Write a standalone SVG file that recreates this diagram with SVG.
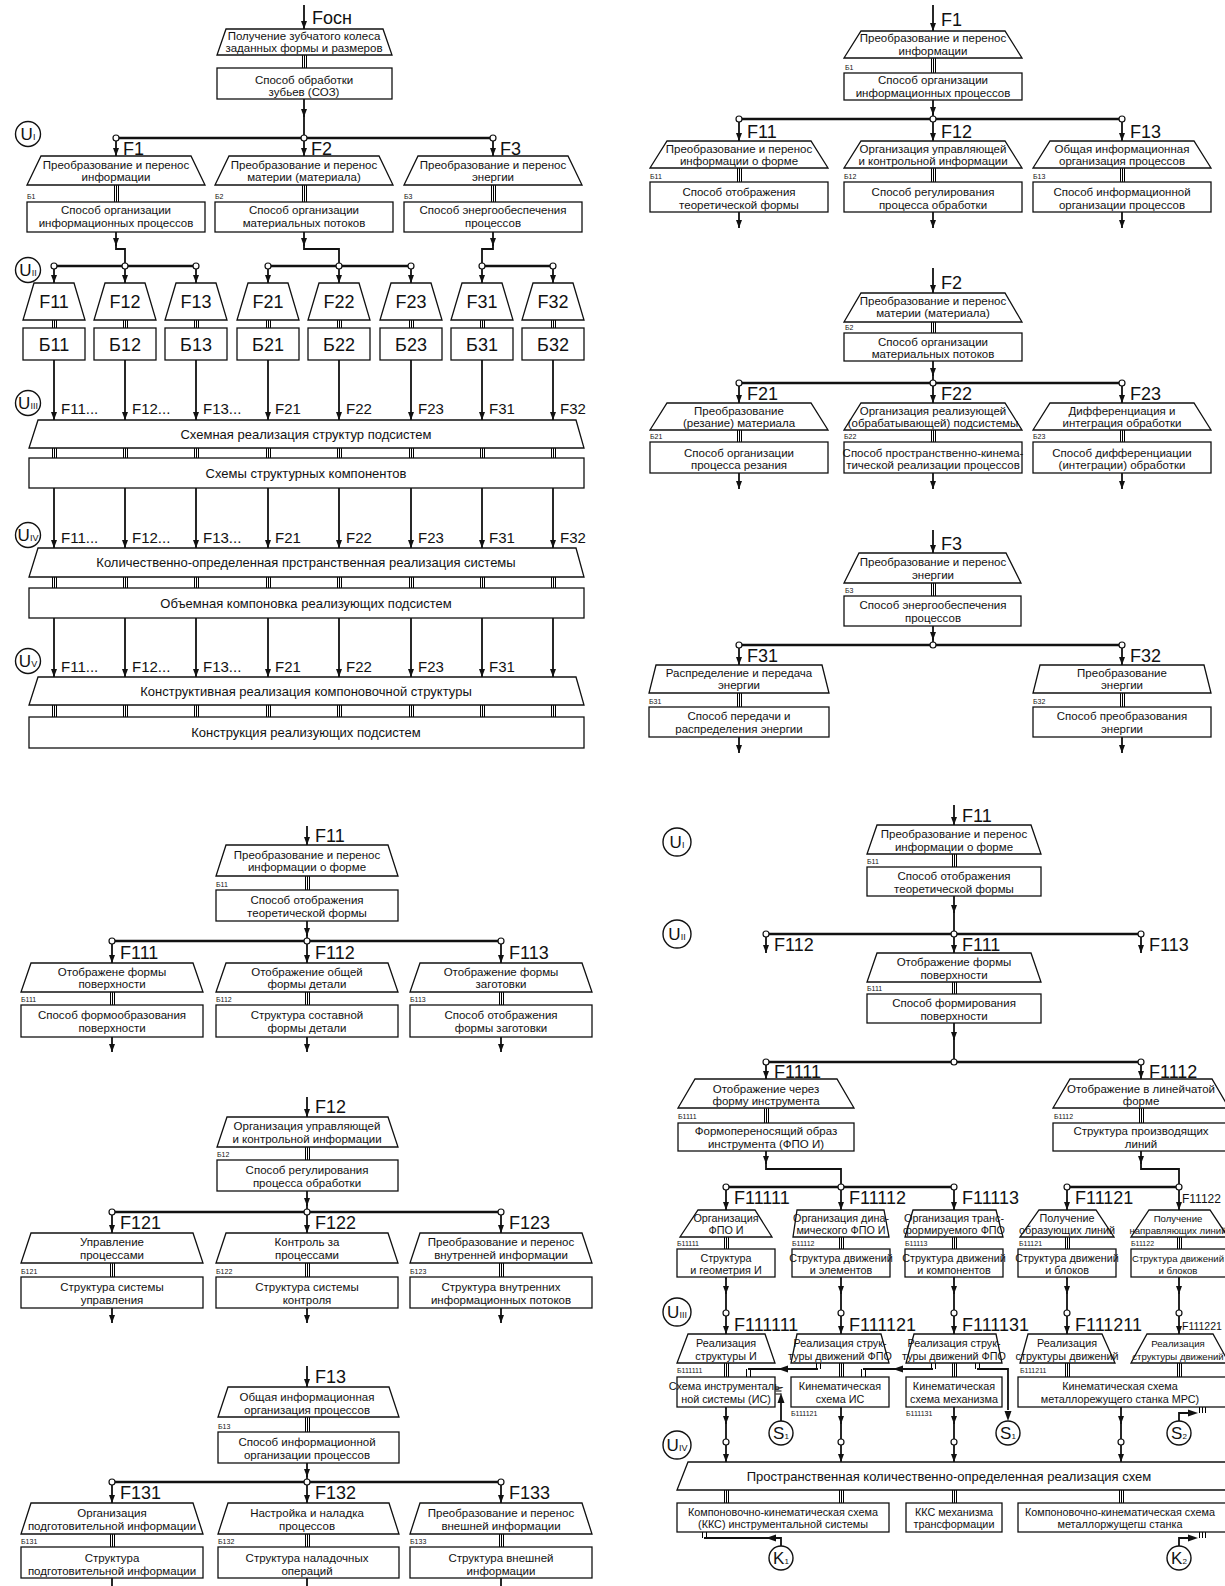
<svg xmlns="http://www.w3.org/2000/svg" width="1225" height="1586" viewBox="0 0 1225 1586">
<defs>
<style>
.n{fill:#fff;stroke:#111;stroke-width:1.3}
.t{font-family:"Liberation Sans Narrow","Liberation Sans",Arial,sans-serif;font-size:11.5px;text-anchor:middle;fill:#111}
.t2{font-family:"Liberation Sans Narrow","Liberation Sans",Arial,sans-serif;font-size:10.8px;text-anchor:middle;fill:#111}
.t3{font-family:"Liberation Sans Narrow","Liberation Sans",Arial,sans-serif;font-size:9.6px;text-anchor:middle;fill:#111}
.s{font-family:"Liberation Sans Narrow","Liberation Sans",Arial,sans-serif;font-size:7px;fill:#111}
.f{font-family:"Liberation Sans Narrow","Liberation Sans",Arial,sans-serif;font-size:18px;fill:#111}
.fs{font-family:"Liberation Sans Narrow","Liberation Sans",Arial,sans-serif;font-size:12px;fill:#111}
.fc{font-family:"Liberation Sans Narrow","Liberation Sans",Arial,sans-serif;font-size:18px;fill:#111;text-anchor:middle}
.g{font-family:"Liberation Sans Narrow","Liberation Sans",Arial,sans-serif;font-size:15px;fill:#111}
.h{font-family:"Liberation Sans",Arial,sans-serif;font-size:13px;text-anchor:middle;fill:#111}
.c{fill:none;stroke:#111;stroke-width:1.8}
.a{fill:none;stroke:#111;stroke-width:1.8;marker-end:url(#ah)}
.bus{fill:none;stroke:#111;stroke-width:2.6}
.tr{fill:none;stroke:#000;stroke-width:1;transform:translate(0.5px,0)}
.j{fill:#fff;stroke:#111;stroke-width:1.2}
.u{fill:#fff;stroke:#111;stroke-width:1.4}
.ut{font-family:"Liberation Sans Narrow","Liberation Sans",Arial,sans-serif;font-size:17px;fill:#111;text-anchor:middle}
</style>
<marker id="ah" viewBox="0 0 10 10" refX="10" refY="5" markerUnits="userSpaceOnUse" markerWidth="8" markerHeight="6" orient="auto" preserveAspectRatio="none"><path d="M0,0L10,5L0,10z" fill="#111"/></marker>
</defs>
<rect width="1225" height="1586" fill="#fff"/>

<g id="connectors">
<path class="a" d="M304 5V29"/>
<path class="tr" d="M302 55V68M304 55V68M306 55V68"/>
<path class="a" d="M304 99V117"/><path class="c" d="M304 115V138"/>
<path class="bus" d="M116 138H493"/>
<path class="a" d="M116 141V156"/><path class="a" d="M304 141V156"/><path class="a" d="M493 141V156"/>
<path class="tr" d="M114 185V202M116 185V202M118 185V202M302 185V202M304 185V202M306 185V202M491 185V202M493 185V202M495 185V202"/>
<path class="a" d="M116 232V246"/><path class="c" d="M116 244V249H125V266"/>
<path class="a" d="M304 232V246"/><path class="c" d="M304 244V249H339V266"/>
<path class="a" d="M493 232V246"/><path class="c" d="M493 244V249H482V266"/>
<path class="bus" d="M54 266H196M268 266H411M482 266H553"/>
<path class="a" d="M54 269V283"/><path class="a" d="M125 269V283"/><path class="a" d="M196 269V283"/><path class="a" d="M268 269V283"/><path class="a" d="M339 269V283"/><path class="a" d="M411 269V283"/><path class="a" d="M482 269V283"/><path class="a" d="M553 269V283"/>
<path class="tr" d="M52 320V328M54 320V328M56 320V328M123 320V328M125 320V328M127 320V328M194 320V328M196 320V328M198 320V328M266 320V328M268 320V328M270 320V328M337 320V328M339 320V328M341 320V328M409 320V328M411 320V328M413 320V328M480 320V328M482 320V328M484 320V328M551 320V328M553 320V328M555 320V328"/>
<path class="a" d="M54 360V420"/><path class="a" d="M125 360V420"/><path class="a" d="M196 360V420"/><path class="a" d="M268 360V420"/><path class="a" d="M339 360V420"/><path class="a" d="M411 360V420"/><path class="a" d="M482 360V420"/><path class="a" d="M553 360V420"/>
<path class="tr" d="M52 448V458M54 448V458M56 448V458M123 448V458M125 448V458M127 448V458M194 448V458M196 448V458M198 448V458M266 448V458M268 448V458M270 448V458M337 448V458M339 448V458M341 448V458M409 448V458M411 448V458M413 448V458M480 448V458M482 448V458M484 448V458M551 448V458M553 448V458M555 448V458"/>
<path class="a" d="M54 488V548"/><path class="a" d="M125 488V548"/><path class="a" d="M196 488V548"/><path class="a" d="M268 488V548"/><path class="a" d="M339 488V548"/><path class="a" d="M411 488V548"/><path class="a" d="M482 488V548"/><path class="a" d="M553 488V548"/>
<path class="tr" d="M52 577V588M54 577V588M56 577V588M123 577V588M125 577V588M127 577V588M194 577V588M196 577V588M198 577V588M266 577V588M268 577V588M270 577V588M337 577V588M339 577V588M341 577V588M409 577V588M411 577V588M413 577V588M480 577V588M482 577V588M484 577V588M551 577V588M553 577V588M555 577V588"/>
<path class="a" d="M54 618V677"/><path class="a" d="M125 618V677"/><path class="a" d="M196 618V677"/><path class="a" d="M268 618V677"/><path class="a" d="M339 618V677"/><path class="a" d="M411 618V677"/><path class="a" d="M482 618V677"/><path class="a" d="M553 618V677"/>
<path class="tr" d="M52 705V717M54 705V717M56 705V717M123 705V717M125 705V717M127 705V717M194 705V717M196 705V717M198 705V717M266 705V717M268 705V717M270 705V717M337 705V717M339 705V717M341 705V717M409 705V717M411 705V717M413 705V717M480 705V717M482 705V717M484 705V717M551 705V717M553 705V717M555 705V717"/>
<circle class="j" cx="116" cy="138" r="3"/><circle class="j" cx="304" cy="138" r="3"/><circle class="j" cx="493" cy="138" r="3"/>
<circle class="j" cx="54" cy="266" r="3"/><circle class="j" cx="125" cy="266" r="3"/><circle class="j" cx="196" cy="266" r="3"/><circle class="j" cx="268" cy="266" r="3"/><circle class="j" cx="339" cy="266" r="3"/><circle class="j" cx="411" cy="266" r="3"/><circle class="j" cx="482" cy="266" r="3"/><circle class="j" cx="553" cy="266" r="3"/>

<path class="a" d="M933 5V31"/>
<path class="tr" d="M931 58V73M933 58V73M935 58V73"/>
<path class="a" d="M933 100V115"/><path class="c" d="M933 113V119"/>
<path class="bus" d="M739 119H1122"/>
<path class="a" d="M739 122V141"/><path class="a" d="M933 122V141"/><path class="a" d="M1122 122V141"/>
<path class="tr" d="M737 168V182M739 168V182M741 168V182M931 168V182M933 168V182M935 168V182M1120 168V182M1122 168V182M1124 168V182"/>
<path class="a" d="M739 212V228"/><path class="a" d="M933 212V228"/><path class="a" d="M1122 212V228"/>
<circle class="j" cx="739" cy="119" r="3"/><circle class="j" cx="933" cy="119" r="3"/><circle class="j" cx="1122" cy="119" r="3"/>
<path class="a" d="M933 268V293"/>
<path class="tr" d="M931 322V333M933 322V333M935 322V333"/>
<path class="a" d="M933 361V376"/><path class="c" d="M933 374V383"/>
<path class="bus" d="M739 383H1122"/>
<path class="a" d="M739 386V403"/><path class="a" d="M933 386V403"/><path class="a" d="M1122 386V403"/>
<path class="tr" d="M737 430V442M739 430V442M741 430V442M931 430V442M933 430V442M935 430V442M1120 430V442M1122 430V442M1124 430V442"/>
<path class="a" d="M739 473V489"/><path class="a" d="M933 473V489"/><path class="a" d="M1122 473V489"/>
<circle class="j" cx="739" cy="383" r="3"/><circle class="j" cx="933" cy="383" r="3"/><circle class="j" cx="1122" cy="383" r="3"/>
<path class="a" d="M933 530V553"/>
<path class="tr" d="M931 583V596M933 583V596M935 583V596"/>
<path class="a" d="M933 626V640"/><path class="c" d="M933 638V645"/>
<path class="bus" d="M739 645H1122"/>
<path class="a" d="M739 648V665"/><path class="a" d="M1122 648V665"/>
<path class="tr" d="M737 693V707M739 693V707M741 693V707M1120 693V707M1122 693V707M1124 693V707"/>
<path class="a" d="M739 737V753"/><path class="a" d="M1122 737V753"/>
<circle class="j" cx="739" cy="645" r="3"/><circle class="j" cx="933" cy="645" r="3"/><circle class="j" cx="1122" cy="645" r="3"/>

<path class="a" d="M307 826V845"/>
<path class="tr" d="M305 876V890M307 876V890M309 876V890"/>
<path class="a" d="M307 921V936"/><path class="c" d="M307 934V941"/>
<path class="bus" d="M112 941H501"/>
<path class="a" d="M112 944V963"/><path class="a" d="M307 944V963"/><path class="a" d="M501 944V963"/>
<path class="tr" d="M110 992V1005M112 992V1005M114 992V1005M305 992V1005M307 992V1005M309 992V1005M499 992V1005M501 992V1005M503 992V1005"/>
<path class="a" d="M112 1037V1052"/><path class="a" d="M307 1037V1052"/><path class="a" d="M501 1037V1052"/>
<circle class="j" cx="112" cy="941" r="3"/><circle class="j" cx="307" cy="941" r="3"/><circle class="j" cx="501" cy="941" r="3"/>
<path class="a" d="M307 1097V1117"/>
<path class="tr" d="M305 1147V1160M307 1147V1160M309 1147V1160"/>
<path class="a" d="M307 1191V1206"/><path class="c" d="M307 1204V1212"/>
<path class="bus" d="M112 1212H501"/>
<path class="a" d="M112 1215V1233"/><path class="a" d="M307 1215V1233"/><path class="a" d="M501 1215V1233"/>
<path class="tr" d="M110 1263V1277M112 1263V1277M114 1263V1277M305 1263V1277M307 1263V1277M309 1263V1277M499 1263V1277M501 1263V1277M503 1263V1277"/>
<path class="a" d="M112 1308V1323"/><path class="a" d="M307 1308V1323"/><path class="a" d="M501 1308V1323"/>
<circle class="j" cx="112" cy="1212" r="3"/><circle class="j" cx="307" cy="1212" r="3"/><circle class="j" cx="501" cy="1212" r="3"/>
<path class="a" d="M307 1366V1387"/>
<path class="tr" d="M305 1417V1432M307 1417V1432M309 1417V1432"/>
<path class="a" d="M307 1463V1477"/><path class="c" d="M307 1475V1482"/>
<path class="bus" d="M112 1482H501"/>
<path class="a" d="M112 1485V1503"/><path class="a" d="M307 1485V1503"/><path class="a" d="M501 1485V1503"/>
<path class="tr" d="M110 1534V1547M112 1534V1547M114 1534V1547M305 1534V1547M307 1534V1547M309 1534V1547M499 1534V1547M501 1534V1547M503 1534V1547"/>
<path class="a" d="M112 1578V1594"/><path class="a" d="M307 1578V1594"/><path class="a" d="M501 1578V1594"/>
<circle class="j" cx="112" cy="1482" r="3"/><circle class="j" cx="307" cy="1482" r="3"/><circle class="j" cx="501" cy="1482" r="3"/>

<path class="a" d="M954 805V825"/>
<path class="tr" d="M952 854V867M954 854V867M956 854V867"/>
<path class="a" d="M954 896V913"/><path class="c" d="M954 911V934"/>
<path class="bus" d="M766 934H1141"/>
<path class="a" d="M766 937V953"/><path class="a" d="M954 937V953"/><path class="a" d="M1141 937V953"/>
<path class="tr" d="M952 982V994M954 982V994M956 982V994"/>
<path class="a" d="M954 1023V1040"/><path class="c" d="M954 1038V1062"/>
<path class="bus" d="M766 1062H1141"/>
<path class="a" d="M766 1065V1079"/><path class="a" d="M1141 1065V1079"/>
<path class="tr" d="M764 1108V1123M766 1108V1123M768 1108V1123M1139 1108V1123M1141 1108V1123M1143 1108V1123"/>
<path class="a" d="M766 1151V1164"/><path class="c" d="M766 1162V1169H841V1187"/>
<path class="a" d="M1141 1151V1164"/><path class="c" d="M1141 1162V1169H1179V1187"/>
<path class="bus" d="M726 1187H954M1067 1187H1179"/>
<path class="a" d="M726 1190V1210"/><path class="a" d="M841 1190V1210"/><path class="a" d="M954 1190V1210"/><path class="a" d="M1067 1190V1210"/><path class="a" d="M1179 1190V1210"/>
<path class="tr" d="M724 1237V1249M726 1237V1249M728 1237V1249M839 1237V1249M841 1237V1249M843 1237V1249M952 1237V1249M954 1237V1249M956 1237V1249M1065 1237V1249M1067 1237V1249M1069 1237V1249M1177 1237V1249M1179 1237V1249M1181 1237V1249"/>
<path class="a" d="M726 1277V1294"/><path class="a" d="M841 1277V1294"/><path class="a" d="M954 1277V1294"/><path class="a" d="M1067 1277V1294"/><path class="a" d="M1179 1277V1294"/>
<path class="c" d="M726 1292V1310M841 1292V1310M954 1292V1310M1067 1292V1310M1179 1292V1310"/>
<path class="a" d="M726 1316V1334"/><path class="a" d="M841 1316V1334"/><path class="a" d="M954 1316V1334"/><path class="a" d="M1067 1316V1334"/><path class="a" d="M1179 1316V1334"/>
<path class="tr" d="M724 1363V1377M726 1363V1377M728 1363V1377M839 1363V1377M841 1363V1377M843 1363V1377M952 1363V1377M954 1363V1377M956 1363V1377M1065 1363V1377M1067 1363V1377M1069 1363V1377M1177 1363V1377M1179 1363V1377M1181 1363V1377"/>
<path class="tr" d="M816 1363V1369M820 1363V1369M746 1369V1377M750 1369V1377"/>
<path class="c" d="M818 1369H748" stroke-width="1.3"/>
<path d="M778 1369L788 1365.5V1372.5z" fill="#111"/>
<path class="tr" d="M931 1363V1369M935 1363V1369M861 1369V1377M865 1369V1377"/>
<path class="c" d="M933 1369H863" stroke-width="1.3"/>
<path d="M893 1369L903 1365.5V1372.5z" fill="#111"/>
<path class="tr" d="M975 1363V1369M979 1363V1369"/>
<path class="c" d="M977 1369H1008V1410" stroke-width="1.3"/>
<path d="M1008 1421L1004.5 1411H1011.5z" fill="#111"/>
<path class="c" d="M781 1421V1396" stroke-width="1.3"/>
<path d="M781 1393L777.5 1403H784.5z" fill="#111"/>
<path class="tr" d="M775 1388H781M775 1391H781M775 1394H781"/>
<path class="c" d="M1179 1421V1413H1190" stroke-width="1.3"/>
<path d="M1198 1413L1188 1409.5V1416.5z" fill="#111"/>
<path class="tr" d="M1199 1407V1413M1202 1407V1413M1205 1407V1413"/>
<path class="a" d="M726 1407V1424"/><path class="a" d="M841 1407V1424"/><path class="a" d="M954 1407V1424"/><path class="a" d="M1121 1407V1424"/>
<path class="c" d="M726 1422V1439M841 1422V1439M954 1422V1439M1121 1422V1439"/>
<path class="a" d="M726 1445V1462"/><path class="a" d="M841 1445V1462"/><path class="a" d="M954 1445V1462"/><path class="a" d="M1121 1445V1462"/>
<path class="tr" d="M724 1490V1503M726 1490V1503M728 1490V1503M839 1490V1503M841 1490V1503M843 1490V1503M952 1490V1503M954 1490V1503M956 1490V1503M1119 1490V1503M1121 1490V1503M1123 1490V1503"/>
<path class="tr" d="M702 1532V1538M706 1532V1538"/>
<path class="c" d="M781 1546V1538H704" stroke-width="1.3"/>
<path d="M766 1538L776 1534.5V1541.5z" fill="#111"/>
<path class="c" d="M1179 1546V1538H1190" stroke-width="1.3"/>
<path d="M1198 1538L1188 1534.5V1541.5z" fill="#111"/>
<path class="tr" d="M1199 1532V1538M1202 1532V1538M1205 1532V1538"/>
<circle class="j" cx="766" cy="934" r="3"/><circle class="j" cx="954" cy="934" r="3"/><circle class="j" cx="1141" cy="934" r="3"/>
<circle class="j" cx="766" cy="1062" r="3"/><circle class="j" cx="954" cy="1062" r="3"/><circle class="j" cx="1141" cy="1062" r="3"/>
<circle class="j" cx="726" cy="1187" r="3"/><circle class="j" cx="841" cy="1187" r="3"/><circle class="j" cx="954" cy="1187" r="3"/><circle class="j" cx="1067" cy="1187" r="3"/><circle class="j" cx="1179" cy="1187" r="3"/>
<circle class="j" cx="726" cy="1313" r="3"/><circle class="j" cx="841" cy="1313" r="3"/><circle class="j" cx="954" cy="1313" r="3"/><circle class="j" cx="1067" cy="1313" r="3"/><circle class="j" cx="1179" cy="1313" r="3"/>
<circle class="j" cx="726" cy="1442" r="3"/><circle class="j" cx="841" cy="1442" r="3"/><circle class="j" cx="954" cy="1442" r="3"/><circle class="j" cx="1121" cy="1442" r="3"/>
</g>

<g id="flow-labels">
<text class="f" x="312" y="24">Fосн</text>
<text class="f" x="123" y="155">F1</text><text class="f" x="311" y="155">F2</text><text class="f" x="500" y="155">F3</text>
<g class="g">
<text x="61" y="414">F11...</text><text x="132" y="414">F12...</text><text x="203" y="414">F13...</text><text x="275" y="414">F21</text><text x="346" y="414">F22</text><text x="418" y="414">F23</text><text x="489" y="414">F31</text><text x="560" y="414">F32</text>
<text x="61" y="543">F11...</text><text x="132" y="543">F12...</text><text x="203" y="543">F13...</text><text x="275" y="543">F21</text><text x="346" y="543">F22</text><text x="418" y="543">F23</text><text x="489" y="543">F31</text><text x="560" y="543">F32</text>
<text x="61" y="672">F11...</text><text x="132" y="672">F12...</text><text x="203" y="672">F13...</text><text x="275" y="672">F21</text><text x="346" y="672">F22</text><text x="418" y="672">F23</text><text x="489" y="672">F31</text>
</g>
<text class="f" x="941" y="26">F1</text>
<text class="f" x="747" y="138">F11</text><text class="f" x="941" y="138">F12</text><text class="f" x="1130" y="138">F13</text>
<text class="f" x="941" y="289">F2</text>
<text class="f" x="747" y="400">F21</text><text class="f" x="941" y="400">F22</text><text class="f" x="1130" y="400">F23</text>
<text class="f" x="941" y="550">F3</text>
<text class="f" x="747" y="662">F31</text><text class="f" x="1130" y="662">F32</text>
<text class="f" x="315" y="842">F11</text>
<text class="f" x="120" y="959">F111</text><text class="f" x="315" y="959">F112</text><text class="f" x="509" y="959">F113</text>
<text class="f" x="315" y="1113">F12</text>
<text class="f" x="120" y="1229">F121</text><text class="f" x="315" y="1229">F122</text><text class="f" x="509" y="1229">F123</text>
<text class="f" x="315" y="1383">F13</text>
<text class="f" x="120" y="1499">F131</text><text class="f" x="315" y="1499">F132</text><text class="f" x="509" y="1499">F133</text>
<text class="f" x="962" y="822">F11</text>
<text class="f" x="774" y="951">F112</text><text class="f" x="962" y="951">F111</text><text class="f" x="1149" y="951">F113</text>
<text class="f" x="774" y="1078">F1111</text><text class="f" x="1149" y="1078">F1112</text>
<text class="f" x="734" y="1204">F11111</text><text class="f" x="849" y="1204">F11112</text><text class="f" x="962" y="1204">F11113</text><text class="f" x="1075" y="1204">F11121</text><text class="fs" x="1182" y="1203">F11122</text>
<text class="f" x="734" y="1331">F111111</text><text class="f" x="849" y="1331">F111121</text><text class="f" x="962" y="1331">F111131</text><text class="f" x="1075" y="1331">F111211</text><text class="fs" x="1182" y="1330" style="font-size:10.5px">F111221</text>
</g>

<g id="levels">
<circle class="u" cx="28" cy="134" r="12.5"/><text class="ut" x="28" y="140">U<tspan font-size="9">I</tspan></text>
<circle class="u" cx="28" cy="270" r="12.5"/><text class="ut" x="28" y="276">U<tspan font-size="9">II</tspan></text>
<circle class="u" cx="28" cy="403" r="12.5"/><text class="ut" x="28" y="409">U<tspan font-size="9">III</tspan></text>
<circle class="u" cx="28" cy="535" r="12.5"/><text class="ut" x="28" y="541">U<tspan font-size="9">IV</tspan></text>
<circle class="u" cx="28" cy="661" r="12.5"/><text class="ut" x="28" y="667">U<tspan font-size="9">V</tspan></text>
<circle class="u" cx="677" cy="842" r="14"/><text class="ut" x="677" y="848">U<tspan font-size="9">I</tspan></text>
<circle class="u" cx="677" cy="934" r="14"/><text class="ut" x="677" y="940">U<tspan font-size="9">II</tspan></text>
<circle class="u" cx="677" cy="1312" r="14"/><text class="ut" x="677" y="1318">U<tspan font-size="9">III</tspan></text>
<circle class="u" cx="677" cy="1445" r="14"/><text class="ut" x="677" y="1451">U<tspan font-size="9">IV</tspan></text>
<circle class="u" cx="781" cy="1433" r="12"/><text class="ut" x="781" y="1439">S<tspan font-size="8">1</tspan></text>
<circle class="u" cx="1008" cy="1433" r="12"/><text class="ut" x="1008" y="1439">S<tspan font-size="8">1</tspan></text>
<circle class="u" cx="1179" cy="1433" r="12"/><text class="ut" x="1179" y="1439">S<tspan font-size="8">2</tspan></text>
<circle class="u" cx="781" cy="1558" r="12"/><text class="ut" x="781" y="1564">K<tspan font-size="8">1</tspan></text>
<circle class="u" cx="1179" cy="1558" r="12"/><text class="ut" x="1179" y="1564">K<tspan font-size="8">2</tspan></text>
</g>

<g id="tl-root">
<polygon class="n" points="226,29 383,29 392,55 217,55"/>
<text class="t" x="304" y="39.5">Получение зубчатого колеса</text>
<text class="t" x="304" y="51.5">заданных формы и размеров</text>
<rect class="n" x="217" y="68" width="175" height="31"/>
<text class="t" x="304" y="84">Способ обработки</text>
<text class="t" x="304" y="96">зубьев (СОЗ)</text>
</g>
<g id="tl-f1">
<polygon class="n" points="41,156 191,156 205,185 27,185"/>
<text class="t" x="116" y="168.5">Преобразование и перенос</text>
<text class="t" x="116" y="180.5">информации</text>
<text class="s" x="27" y="199">Б1</text>
<rect class="n" x="27" y="202" width="178" height="30"/>
<text class="t" x="116" y="214">Способ организации</text>
<text class="t" x="116" y="226.5">информационных процессов</text>
</g>
<g id="tl-f2">
<polygon class="n" points="229,156 379,156 393,185 215,185"/>
<text class="t" x="304" y="168.5">Преобразование и перенос</text>
<text class="t" x="304" y="180.5">материи (материала)</text>
<text class="s" x="215" y="199">Б2</text>
<rect class="n" x="215" y="202" width="178" height="30"/>
<text class="t" x="304" y="214">Способ организации</text>
<text class="t" x="304" y="226.5">материальных потоков</text>
</g>
<g id="tl-f3">
<polygon class="n" points="418,156 568,156 582,185 404,185"/>
<text class="t" x="493" y="168.5">Преобразование и перенос</text>
<text class="t" x="493" y="180.5">энергии</text>
<text class="s" x="404" y="199">Б3</text>
<rect class="n" x="404" y="202" width="178" height="30"/>
<text class="t" x="493" y="214">Способ энергообеспечения</text>
<text class="t" x="493" y="226.5">процессов</text>
</g>
<g id="tl-f11"><polygon class="n" points="34,283 74,283 85,320 23,320"/><text class="fc" x="54" y="308">F11</text><rect class="n" x="23" y="328" width="62" height="32"/><text class="fc" x="54" y="350.5">Б11</text></g>
<g id="tl-f12"><polygon class="n" points="105,283 145,283 156,320 94,320"/><text class="fc" x="125" y="308">F12</text><rect class="n" x="94" y="328" width="62" height="32"/><text class="fc" x="125" y="350.5">Б12</text></g>
<g id="tl-f13"><polygon class="n" points="176,283 216,283 227,320 165,320"/><text class="fc" x="196" y="308">F13</text><rect class="n" x="165" y="328" width="62" height="32"/><text class="fc" x="196" y="350.5">Б13</text></g>
<g id="tl-f21"><polygon class="n" points="248,283 288,283 299,320 237,320"/><text class="fc" x="268" y="308">F21</text><rect class="n" x="237" y="328" width="62" height="32"/><text class="fc" x="268" y="350.5">Б21</text></g>
<g id="tl-f22"><polygon class="n" points="319,283 359,283 370,320 308,320"/><text class="fc" x="339" y="308">F22</text><rect class="n" x="308" y="328" width="62" height="32"/><text class="fc" x="339" y="350.5">Б22</text></g>
<g id="tl-f23"><polygon class="n" points="391,283 431,283 442,320 380,320"/><text class="fc" x="411" y="308">F23</text><rect class="n" x="380" y="328" width="62" height="32"/><text class="fc" x="411" y="350.5">Б23</text></g>
<g id="tl-f31"><polygon class="n" points="462,283 502,283 513,320 451,320"/><text class="fc" x="482" y="308">F31</text><rect class="n" x="451" y="328" width="62" height="32"/><text class="fc" x="482" y="350.5">Б31</text></g>
<g id="tl-f32"><polygon class="n" points="533,283 573,283 584,320 522,320"/><text class="fc" x="553" y="308">F32</text><rect class="n" x="522" y="328" width="62" height="32"/><text class="fc" x="553" y="350.5">Б32</text></g>
<g id="tl-level3">
<polygon class="n" points="38,420 576,420 584,448 29,448"/>
<text class="h" x="306" y="438.5">Схемная реализация структур подсистем</text>
<rect class="n" x="29" y="458" width="555" height="30"/>
<text class="h" x="306" y="477.5">Схемы структурных компонентов</text>
</g>
<g id="tl-level4">
<polygon class="n" points="38,548 576,548 584,577 29,577"/>
<text class="h" x="306" y="567">Количественно-определенная прстранственная реализация системы</text>
<rect class="n" x="29" y="588" width="555" height="30"/>
<text class="h" x="306" y="607.5">Объемная компоновка реализующих подсистем</text>
</g>
<g id="tl-level5">
<polygon class="n" points="38,677 576,677 584,705 29,705"/>
<text class="h" x="306" y="695.5">Конструктивная реализация компоновочной структуры</text>
<rect class="n" x="29" y="717" width="555" height="31"/>
<text class="h" x="306" y="737">Конструкция реализующих подсистем</text>
</g>

<g id="tr-f1">
<polygon class="n" points="861,31 1005,31 1022,58 844,58"/>
<text class="t" x="933" y="42">Преобразование и перенос</text>
<text class="t" x="933" y="54.5">информации</text>
<text class="s" x="845" y="70">Б1</text>
<rect class="n" x="844" y="73" width="178" height="27"/>
<text class="t" x="933" y="84">Способ организации</text>
<text class="t" x="933" y="96.5">информационных процессов</text>
</g>
<g id="tr-f11">
<polygon class="n" points="667,141 811,141 828,168 650,168"/>
<text class="t" x="739" y="152.5">Преобразование и перенос</text>
<text class="t" x="739" y="165">информации о форме</text>
<text class="s" x="650" y="179">Б11</text>
<rect class="n" x="650" y="182" width="178" height="30"/>
<text class="t" x="739" y="196">Способ отображения</text>
<text class="t" x="739" y="208.5">теоретической формы</text>
</g>
<g id="tr-f12">
<polygon class="n" points="861,141 1005,141 1022,168 844,168"/>
<text class="t" x="933" y="152.5">Организация управляющей</text>
<text class="t" x="933" y="165">и контрольной информации</text>
<text class="s" x="844" y="179">Б12</text>
<rect class="n" x="844" y="182" width="178" height="30"/>
<text class="t" x="933" y="196">Способ регулирования</text>
<text class="t" x="933" y="208.5">процесса обработки</text>
</g>
<g id="tr-f13">
<polygon class="n" points="1050,141 1194,141 1211,168 1033,168"/>
<text class="t" x="1122" y="152.5">Общая информационная</text>
<text class="t" x="1122" y="165">организация процессов</text>
<text class="s" x="1033" y="179">Б13</text>
<rect class="n" x="1033" y="182" width="178" height="30"/>
<text class="t" x="1122" y="196">Способ информационной</text>
<text class="t" x="1122" y="208.5">организации процессов</text>
</g>
<g id="tr-f2">
<polygon class="n" points="861,293 1005,293 1022,322 844,322"/>
<text class="t" x="933" y="304.5">Преобразование и перенос</text>
<text class="t" x="933" y="317">материи (материала)</text>
<text class="s" x="845" y="330">Б2</text>
<rect class="n" x="844" y="333" width="178" height="28"/>
<text class="t" x="933" y="345.5">Способ организации</text>
<text class="t" x="933" y="358">материальных потоков</text>
</g>
<g id="tr-f21">
<polygon class="n" points="667,403 811,403 828,430 650,430"/>
<text class="t" x="739" y="414.5">Преобразование</text>
<text class="t" x="739" y="427">(резание) материала</text>
<text class="s" x="650" y="439">Б21</text>
<rect class="n" x="650" y="442" width="178" height="31"/>
<text class="t" x="739" y="456.5">Способ организации</text>
<text class="t" x="739" y="469">процесса резания</text>
</g>
<g id="tr-f22">
<polygon class="n" points="861,403 1005,403 1022,430 844,430"/>
<text class="t" x="933" y="414.5">Организация реализующей</text>
<text class="t" x="933" y="427">(обрабатывающей) подсистемы</text>
<text class="s" x="844" y="439">Б22</text>
<rect class="n" x="844" y="442" width="178" height="31"/>
<text class="t" x="933" y="456.5">Способ пространственно-кинема-</text>
<text class="t" x="933" y="469">тической реализации процессов</text>
</g>
<g id="tr-f23">
<polygon class="n" points="1050,403 1194,403 1211,430 1033,430"/>
<text class="t" x="1122" y="414.5">Дифференциация и</text>
<text class="t" x="1122" y="427">интеграция обработки</text>
<text class="s" x="1033" y="439">Б23</text>
<rect class="n" x="1033" y="442" width="178" height="31"/>
<text class="t" x="1122" y="456.5">Способ дифференциации</text>
<text class="t" x="1122" y="469">(интеграции) обработки</text>
</g>
<g id="tr-f3">
<polygon class="n" points="859,553 1006,553 1021,583 844,583"/>
<text class="t" x="933" y="566">Преобразование и перенос</text>
<text class="t" x="933" y="578.5">энергии</text>
<text class="s" x="845" y="593">Б3</text>
<rect class="n" x="844" y="596" width="177" height="30"/>
<text class="t" x="933" y="609">Способ энергообеспечения</text>
<text class="t" x="933" y="621.5">процессов</text>
</g>
<g id="tr-f31">
<polygon class="n" points="656,665 822,665 829,693 649,693"/>
<text class="t" x="739" y="677">Распределение и передача</text>
<text class="t" x="739" y="689">энергии</text>
<text class="s" x="649" y="704">Б31</text>
<rect class="n" x="649" y="707" width="180" height="30"/>
<text class="t" x="739" y="720">Способ передачи и</text>
<text class="t" x="739" y="732.5">распределения энергии</text>
</g>
<g id="tr-f32">
<polygon class="n" points="1040,665 1204,665 1211,693 1033,693"/>
<text class="t" x="1122" y="677">Преобразование</text>
<text class="t" x="1122" y="689">энергии</text>
<text class="s" x="1033" y="704">Б32</text>
<rect class="n" x="1033" y="707" width="178" height="30"/>
<text class="t" x="1122" y="720">Способ преобразования</text>
<text class="t" x="1122" y="732.5">энергии</text>
</g>

<g id="bl-f11">
<polygon class="n" points="226,845 388,845 398,876 216,876"/>
<text class="t" x="307" y="858.5">Преобразование и перенос</text>
<text class="t" x="307" y="871">информации о форме</text>
<text class="s" x="216" y="887">Б11</text>
<rect class="n" x="216" y="890" width="182" height="31"/>
<text class="t" x="307" y="903.5">Способ отображения</text>
<text class="t" x="307" y="916.5">теоретической формы</text>
</g>
<g id="bl-f111">
<polygon class="n" points="31,963 193,963 203,992 21,992"/>
<text class="t" x="112" y="975.5">Отображене формы</text>
<text class="t" x="112" y="988">поверхности</text>
<text class="s" x="21" y="1002">Б111</text>
<rect class="n" x="21" y="1005" width="182" height="32"/>
<text class="t" x="112" y="1019">Способ формообразования</text>
<text class="t" x="112" y="1032">поверхности</text>
</g>
<g id="bl-f112">
<polygon class="n" points="226,963 388,963 398,992 216,992"/>
<text class="t" x="307" y="975.5">Отображение общей</text>
<text class="t" x="307" y="988">формы детали</text>
<text class="s" x="216" y="1002">Б112</text>
<rect class="n" x="216" y="1005" width="182" height="32"/>
<text class="t" x="307" y="1019">Структура составной</text>
<text class="t" x="307" y="1032">формы детали</text>
</g>
<g id="bl-f113">
<polygon class="n" points="420,963 582,963 592,992 410,992"/>
<text class="t" x="501" y="975.5">Отображение формы</text>
<text class="t" x="501" y="988">заготовки</text>
<text class="s" x="410" y="1002">Б113</text>
<rect class="n" x="410" y="1005" width="182" height="32"/>
<text class="t" x="501" y="1019">Способ отображения</text>
<text class="t" x="501" y="1032">формы заготовки</text>
</g>
<g id="bl-f12">
<polygon class="n" points="227,1117 388,1117 398,1147 217,1147"/>
<text class="t" x="307" y="1130">Организация управляющей</text>
<text class="t" x="307" y="1143">и контрольной информации</text>
<text class="s" x="217" y="1157">Б12</text>
<rect class="n" x="217" y="1160" width="181" height="31"/>
<text class="t" x="307" y="1174">Способ регулирования</text>
<text class="t" x="307" y="1187">процесса обработки</text>
</g>
<g id="bl-f121">
<polygon class="n" points="31,1233 193,1233 203,1263 21,1263"/>
<text class="t" x="112" y="1246">Управление</text>
<text class="t" x="112" y="1259">процессами</text>
<text class="s" x="21" y="1274">Б121</text>
<rect class="n" x="21" y="1277" width="182" height="31"/>
<text class="t" x="112" y="1291">Структура системы</text>
<text class="t" x="112" y="1304">управления</text>
</g>
<g id="bl-f122">
<polygon class="n" points="226,1233 388,1233 398,1263 216,1263"/>
<text class="t" x="307" y="1246">Контроль за</text>
<text class="t" x="307" y="1259">процессами</text>
<text class="s" x="216" y="1274">Б122</text>
<rect class="n" x="216" y="1277" width="182" height="31"/>
<text class="t" x="307" y="1291">Структура системы</text>
<text class="t" x="307" y="1304">контроля</text>
</g>
<g id="bl-f123">
<polygon class="n" points="420,1233 582,1233 592,1263 410,1263"/>
<text class="t" x="501" y="1246">Преобразование и перенос</text>
<text class="t" x="501" y="1259">внутренней информации</text>
<text class="s" x="410" y="1274">Б123</text>
<rect class="n" x="410" y="1277" width="182" height="31"/>
<text class="t" x="501" y="1291">Структура внутренних</text>
<text class="t" x="501" y="1304">информационных потоков</text>
</g>
<g id="bl-f13">
<polygon class="n" points="228,1387 389,1387 399,1417 218,1417"/>
<text class="t" x="307" y="1401">Общая информационная</text>
<text class="t" x="307" y="1414">организация процессов</text>
<text class="s" x="218" y="1429">Б13</text>
<rect class="n" x="218" y="1432" width="181" height="31"/>
<text class="t" x="307" y="1446">Способ информационной</text>
<text class="t" x="307" y="1459">организации процессов</text>
</g>
<g id="bl-f131">
<polygon class="n" points="31,1503 193,1503 203,1534 21,1534"/>
<text class="t" x="112" y="1517">Организация</text>
<text class="t" x="112" y="1530">подготовительной информации</text>
<text class="s" x="21" y="1544">Б131</text>
<rect class="n" x="21" y="1547" width="182" height="31"/>
<text class="t" x="112" y="1561.5">Структура</text>
<text class="t" x="112" y="1574.5">подготовительной информации</text>
</g>
<g id="bl-f132">
<polygon class="n" points="228,1503 389,1503 399,1534 218,1534"/>
<text class="t" x="307" y="1517">Настройка и наладка</text>
<text class="t" x="307" y="1530">процессов</text>
<text class="s" x="218" y="1544">Б132</text>
<rect class="n" x="218" y="1547" width="181" height="31"/>
<text class="t" x="307" y="1561.5">Структура наладочных</text>
<text class="t" x="307" y="1574.5">операций</text>
</g>
<g id="bl-f133">
<polygon class="n" points="420,1503 582,1503 592,1534 410,1534"/>
<text class="t" x="501" y="1517">Преобразование и перенос</text>
<text class="t" x="501" y="1530">внешней информации</text>
<text class="s" x="410" y="1544">Б133</text>
<rect class="n" x="410" y="1547" width="182" height="31"/>
<text class="t" x="501" y="1561.5">Структура внешней</text>
<text class="t" x="501" y="1574.5">информации</text>
</g>

<g id="br-f11">
<polygon class="n" points="877,825 1031,825 1041,854 867,854"/>
<text class="t" x="954" y="838">Преобразование и перенос</text>
<text class="t" x="954" y="850.5">информации о форме</text>
<text class="s" x="867" y="864">Б11</text>
<rect class="n" x="867" y="867" width="174" height="29"/>
<text class="t" x="954" y="880">Способ отображения</text>
<text class="t" x="954" y="892.5">теоретической формы</text>
</g>
<g id="br-f111">
<polygon class="n" points="877,953 1031,953 1041,982 867,982"/>
<text class="t" x="954" y="966">Отображение формы</text>
<text class="t" x="954" y="978.5">поверхности</text>
<text class="s" x="867" y="991">Б111</text>
<rect class="n" x="867" y="994" width="174" height="29"/>
<text class="t" x="954" y="1007">Способ формирования</text>
<text class="t" x="954" y="1019.5">поверхности</text>
</g>
<g id="br-f1111">
<polygon class="n" points="695,1079 837,1079 854,1108 678,1108"/>
<text class="t" x="766" y="1092.5">Отображение через</text>
<text class="t" x="766" y="1105">форму инструмента</text>
<text class="s" x="678" y="1119">Б1111</text>
<rect class="n" x="678" y="1123" width="176" height="28"/>
<text class="t" x="766" y="1135">Формопереносящий образ</text>
<text class="t" x="766" y="1147.5">инструмента (ФПО И)</text>
</g>
<g id="br-f1112">
<polygon class="n" points="1070,1079 1212,1079 1229,1108 1053,1108"/>
<text class="t" x="1141" y="1092.5">Отображение в линейчатой</text>
<text class="t" x="1141" y="1105">форме</text>
<text class="s" x="1054" y="1119">Б1112</text>
<rect class="n" x="1053" y="1123" width="176" height="28"/>
<text class="t" x="1141" y="1135">Структура производящих</text>
<text class="t" x="1141" y="1147.5">линий</text>
</g>
<g id="br-f11111">
<polygon class="n" points="698,1210 755,1210 772,1237 680,1237"/>
<text class="t2" x="726" y="1221.5">Организация</text>
<text class="t2" x="726" y="1233.5">ФПО И</text>
<text class="s" x="677" y="1246">Б11111</text>
<rect class="n" x="677" y="1249" width="98" height="28"/>
<text class="t2" x="726" y="1261.5">Структура</text>
<text class="t2" x="726" y="1273.5">и геометрия И</text>
</g>
<g id="br-f11112">
<polygon class="n" points="797,1210 884,1210 889,1237 793,1237"/>
<text class="t2" x="841" y="1221.5">Организация дина-</text>
<text class="t2" x="841" y="1233.5">мического ФПО И</text>
<text class="s" x="792" y="1246">Б11112</text>
<rect class="n" x="792" y="1249" width="98" height="28"/>
<text class="t2" x="841" y="1261.5">Структура движений</text>
<text class="t2" x="841" y="1273.5">и элементов</text>
</g>
<g id="br-f11113">
<polygon class="n" points="913,1210 996,1210 1003,1237 905,1237"/>
<text class="t2" x="954" y="1221.5">Организация транс-</text>
<text class="t2" x="954" y="1233.5">формируемого ФПО</text>
<text class="s" x="905" y="1246">Б11113</text>
<rect class="n" x="905" y="1249" width="98" height="28"/>
<text class="t2" x="954" y="1261.5">Структура движений</text>
<text class="t2" x="954" y="1273.5">и компонентов</text>
</g>
<g id="br-f11121">
<polygon class="n" points="1039,1210 1096,1210 1114,1237 1020,1237"/>
<text class="t2" x="1067" y="1221.5">Получение</text>
<text class="t2" x="1067" y="1233.5">образующих линий</text>
<text class="s" x="1019" y="1246">Б11121</text>
<rect class="n" x="1018" y="1249" width="98" height="28"/>
<text class="t2" x="1067" y="1261.5">Структура движений</text>
<text class="t2" x="1067" y="1273.5">и блоков</text>
</g>
<g id="br-f11122">
<polygon class="n" points="1149,1210 1210,1210 1228,1237 1131,1237"/>
<text class="t3" x="1178" y="1221.5">Получение</text>
<text class="t3" x="1178" y="1233.5">направляющих линий</text>
<text class="s" x="1131" y="1246">Б11122</text>
<rect class="n" x="1131" y="1249" width="98" height="28"/>
<text class="t3" x="1178" y="1261.5">Структура движений</text>
<text class="t3" x="1178" y="1273.5">и блоков</text>
</g>
<g id="br-f111111">
<polygon class="n" points="688,1334 765,1334 775,1363 677,1363"/>
<text class="t2" x="726" y="1347">Реализация</text>
<text class="t2" x="726" y="1359.5">структуры И</text>
<text class="s" x="677" y="1373">Б111111</text>
<rect class="n" x="677" y="1377" width="98" height="30"/>
<text class="t2" x="726" y="1390">Схема инструменталь-</text>
<text class="t2" x="726" y="1402.5">ной системы (ИС)</text>
</g>
<g id="br-f111121">
<polygon class="n" points="797,1334 881,1334 889,1363 791,1363"/>
<text class="t2" x="840" y="1347">Реализация струк-</text>
<text class="t2" x="840" y="1359.5">туры движений ФПО</text>
<rect class="n" x="791" y="1377" width="98" height="30"/>
<text class="t2" x="840" y="1390">Кинематическая</text>
<text class="t2" x="840" y="1402.5">схема ИС</text>
<text class="s" x="791" y="1416">Б111121</text>
</g>
<g id="br-f111131">
<polygon class="n" points="914,1334 996,1334 1002,1363 906,1363"/>
<text class="t2" x="954" y="1347">Реализация струк-</text>
<text class="t2" x="954" y="1359.5">туры движений ФПО</text>
<rect class="n" x="906" y="1377" width="96" height="30"/>
<text class="t2" x="954" y="1390">Кинематическая</text>
<text class="t2" x="954" y="1402.5">схема механизма</text>
<text class="s" x="906" y="1416">Б111131</text>
</g>
<g id="br-f111211">
<polygon class="n" points="1028,1334 1102,1334 1115,1363 1020,1363"/>
<text class="t2" x="1067" y="1347">Реализация</text>
<text class="t2" x="1067" y="1359.5">структуры движений</text>
<text class="s" x="1020" y="1373">Б111211</text>
</g>
<g id="br-f111221">
<polygon class="n" points="1147,1334 1213,1334 1229,1363 1131,1363"/>
<text class="t3" x="1178" y="1347">Реализация</text>
<text class="t3" x="1178" y="1359.5">структуры движений</text>
</g>
<g id="br-mrs">
<rect class="n" x="1018" y="1377" width="211" height="30"/>
<text class="t2" x="1120" y="1390">Кинематическая схема</text>
<text class="t2" x="1120" y="1402.5">металлорежущего станка МРС)</text>
</g>
<g id="br-level4">
<polygon class="n" points="688,1462 1238,1462 1248,1490 677,1490"/>
<text class="h" x="949" y="1480.5">Пространственная количественно-определенная реализация схем</text>
</g>
<g id="br-kks1">
<rect class="n" x="677" y="1503" width="212" height="29"/>
<text class="t2" x="783" y="1515.5">Компоновочно-кинематическая схема</text>
<text class="t2" x="783" y="1527.5">(ККС) инструментальной системы</text>
</g>
<g id="br-kks2">
<rect class="n" x="906" y="1503" width="96" height="29"/>
<text class="t2" x="954" y="1515.5">ККС механизма</text>
<text class="t2" x="954" y="1527.5">трансформации</text>
</g>
<g id="br-kks3">
<rect class="n" x="1018" y="1503" width="211" height="29"/>
<text class="t2" x="1120" y="1515.5">Компоновочно-кинематическая схема</text>
<text class="t2" x="1120" y="1527.5">металлоржущегш станка</text>
</g>
</svg>
